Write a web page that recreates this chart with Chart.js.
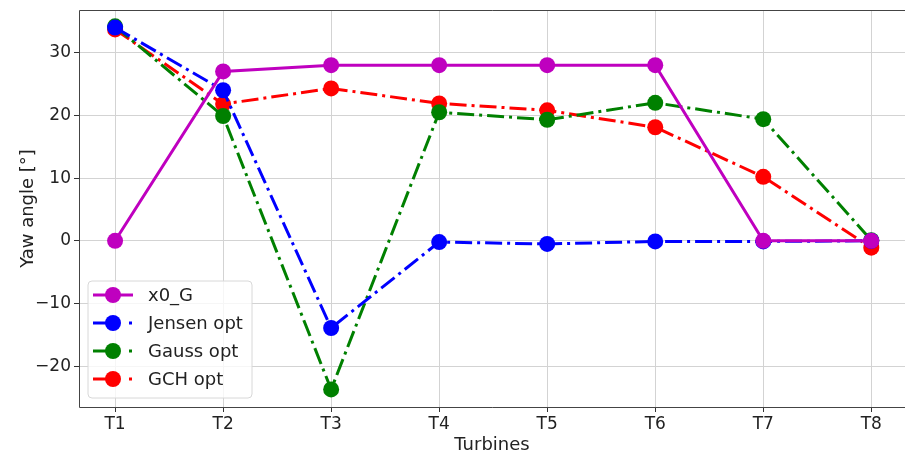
<!DOCTYPE html>
<html>
<head>
<meta charset="utf-8">
<script src="https://cdn.jsdelivr.net/npm/chart.js@4"></script>
<style>
  html, body { margin: 0; padding: 0; background: #fff; overflow: hidden; }
  canvas { display: block; }
</style>
</head>
<body>
<canvas id="yawChart" width="905" height="456"></canvas>
<script>
// values
const turbines = ["T1", "T2", "T3", "T4", "T5", "T6", "T7", "T8"];
const x0G = [0, 27, 28, 28, 28, 28, 0, 0];
const jensenOpt = [34.0, 24.0, -13.9, -0.2, -0.5, -0.1, -0.1, 0];
const gaussOpt = [34.2, 19.9, -23.7, 20.5, 19.3, 22.0, 19.4, 0.1];
const gchOpt = [33.7, 21.8, 24.3, 21.9, 20.8, 18.1, 10.2, -1.1];
const yTicks = [-20, -10, 0, 10, 20, 30];

const FONT = "'DejaVu Sans', sans-serif";
const DASHDOT = [17, 5, 3, 5];

function toPoints(arr) {
  return arr.map((v, i) => ({ x: i, y: v }));
}

function series(label, values, color, dashed) {
  return {
    label: label,
    data: toPoints(values),
    borderColor: color,
    backgroundColor: color,
    borderWidth: 3,
    borderDash: dashed ? DASHDOT : [],
    pointRadius: 8,
    pointHoverRadius: 8,
    pointBorderWidth: 0,
    tension: 0,
    fill: false,
  };
}

// matplotlib style legend: line with marker in the middle
const boxLegend = {
  id: "boxLegend",
  afterDraw(chart) {
    const ctx = chart.ctx;
    const area = chart.chartArea;
    const sets = chart.data.datasets;
    const rowH = 28;
    const w = 164, h = 117;
    const x0 = area.left + 9;
    const y0 = area.bottom - 9 - h;
    ctx.save();
    ctx.beginPath();
    ctx.roundRect(x0, y0, w, h, 4);
    ctx.fillStyle = "rgba(255,255,255,0.8)";
    ctx.fill();
    ctx.strokeStyle = "#d8d8d8";
    ctx.lineWidth = 1;
    ctx.stroke();
    sets.forEach((ds, i) => {
      const cy = y0 + 14 + i * rowH;
      const dashed = ds.borderDash && ds.borderDash.length;
      ctx.strokeStyle = ds.borderColor;
      ctx.lineWidth = 3;
      ctx.beginPath();
      ctx.moveTo(x0 + 5, cy);
      ctx.lineTo(dashed ? x0 + 28 : x0 + 45, cy);
      if (dashed) {
        ctx.moveTo(x0 + 41, cy);
        ctx.lineTo(x0 + 44, cy);
      }
      ctx.stroke();
      ctx.beginPath();
      ctx.arc(x0 + 25, cy, 8, 0, Math.PI * 2);
      ctx.fillStyle = ds.backgroundColor;
      ctx.fill();
      ctx.fillStyle = "#222";
      ctx.font = "18px " + FONT;
      ctx.textBaseline = "middle";
      ctx.textAlign = "left";
      ctx.fillText(ds.label, x0 + 60, cy + 1);
    });
    ctx.restore();
  },
};

// dark frame around the plot (right edge falls off the canvas in the original)
const frame = {
  id: "frame",
  afterDatasetsDraw(chart) {
    const { ctx, chartArea: a } = chart;
    ctx.save();
    ctx.strokeStyle = "#444";
    ctx.lineWidth = 1;
    ctx.beginPath();
    ctx.moveTo(a.right + 2, a.top + 0.5);
    ctx.lineTo(a.left + 0.5, a.top + 0.5);
    ctx.lineTo(a.left + 0.5, a.bottom + 0.5);
    ctx.lineTo(a.right + 2, a.bottom + 0.5);
    ctx.stroke();
    ctx.restore();
  },
};

const ctx = document.getElementById("yawChart").getContext("2d");
new Chart(ctx, {
  type: "line",
  data: {
    datasets: [
      series("x0_G", x0G, "#bf00bf", false),
      series("Jensen opt", jensenOpt, "#0000ff", true),
      series("Gauss opt", gaussOpt, "#008000", true),
      series("GCH opt", gchOpt, "#ff0000", true),
    ],
  },
  options: {
    responsive: false,
    animation: false,
    layout: { autoPadding: false, padding: { top: 10, right: 0, left: 0, bottom: 0 } },
    plugins: {
      legend: { display: false },
      tooltip: { enabled: false },
    },
    scales: {
      x: {
        type: "linear",
        min: -0.334,
        max: 7.312,
        afterBuildTicks(scale) {
          scale.ticks = turbines.map((t, i) => ({ value: i }));
        },
        afterFit(scale) {
          scale.height = 49;
          scale.paddingLeft = 0;
          scale.paddingRight = 0;
        },
        ticks: {
          callback: (v) => turbines[v],
          color: "#222",
          font: { family: FONT, size: 17 },
          padding: 2,
          maxRotation: 0,
        },
        grid: {
          color: "#d3d3d3",
          tickColor: "#333",
          tickLength: 5,
        },
        border: { display: false },
        title: {
          display: true,
          text: "Turbines",
          color: "#222",
          font: { family: FONT, size: 18 },
          padding: { top: 0, bottom: 0 },
        },
      },
      y: {
        min: -26.5,
        max: 36.8,
        afterBuildTicks(scale) {
          scale.ticks = yTicks.map((v) => ({ value: v }));
        },
        afterFit(scale) {
          scale.width = 79;
          scale.paddingTop = 0;
          scale.paddingBottom = 0;
        },
        ticks: {
          callback: (v) => (v < 0 ? "\u2212" + Math.abs(v) : String(v)),
          color: "#222",
          font: { family: FONT, size: 17 },
          padding: 3,
        },
        grid: {
          color: "#d3d3d3",
          tickColor: "#333",
          tickLength: 5,
        },
        border: { display: false },
        title: {
          display: true,
          text: "Yaw angle [°]",
          color: "#222",
          font: { family: FONT, size: 18 },
          padding: { top: 18, bottom: 0 },
        },
      },
    },
  },
  plugins: [frame, boxLegend],
});
</script>
</body>
</html>
